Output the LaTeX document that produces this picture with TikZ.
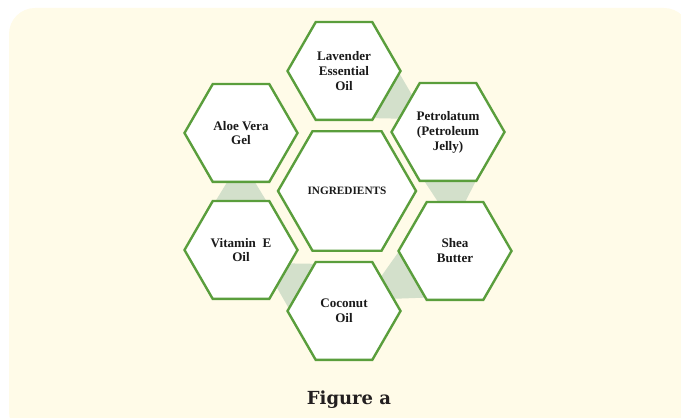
\documentclass[tikz,border=0pt]{standalone}
\usepackage{fontspec}
\setmainfont{Liberation Serif}
\newfontfamily\captionfont{DejaVu Serif}
\usetikzlibrary{shapes.geometric,calc}

\definecolor{cream}{HTML}{FFFBE8}
\definecolor{hexgreen}{HTML}{5A9E3C}
\definecolor{jointfill}{HTML}{D3E0CB}
\definecolor{inktext}{HTML}{1A1A1A}
\definecolor{captiongray}{HTML}{231F20}

\pgfdeclarelayer{back}
\pgfdeclarelayer{joints}
\pgfsetlayers{back,joints,main}

% tapered joint between two neighbouring hexagons
\newcommand{\joint}[2]{%
  \fill[jointfill] ($(#1.center)!0.97cm!(#2.center)!0.79cm!90:(#2.center)$)
    -- ($(#1.center)!0.97cm!(#2.center)!0.79cm!-90:(#2.center)$)
    -- ($(#2.center)!0.97cm!(#1.center)!0.19cm!90:(#1.center)$)
    -- ($(#2.center)!0.97cm!(#1.center)!0.19cm!-90:(#1.center)$) -- cycle;}

\tikzset{
  hexcell/.style={regular polygon, regular polygon sides=6, draw=hexgreen,
    fill=white, line width=1.7pt, minimum size=2.825cm, inner sep=0pt,
    align=center, text=inktext, font={\fontsize{9.3}{10.6}\selectfont\bfseries}},
  hexhub/.style={hexcell, minimum size=3.45cm,
    font={\fontsize{8}{9}\selectfont\bfseries}}
}

\begin{document}
\begin{tikzpicture}[x=0.025cm,y=0.025cm]
  \useasboundingbox (0,0) rectangle (681,418);
  \begin{pgfonlayer}{back}
    \clip (0,0) rectangle (681,418);
    \fill[cream, rounded corners=0.65cm] (9,410) rectangle (690,-20);
  \end{pgfonlayer}

  % hexagons
  \node[hexhub]  (hub)        at (347,227) {INGREDIENTS};
  \node[hexcell] (lavender)   at (344,347) {Lavender\\Essential\\Oil};
  \node[hexcell] (petrolatum) at (448,286) {Petrolatum\\(Petroleum\\Jelly)};
  \node[hexcell] (shea)       at (455,167) {Shea\\Butter};
  \node[hexcell] (coconut)    at (344,107) {Coconut\\Oil};
  \node[hexcell] (vitamin)    at (241,168) {Vitamin\ \ E\\Oil};
  \node[hexcell] (aloe)       at (241,285) {Aloe Vera\\Gel};

  % joints
  \begin{pgfonlayer}{joints}
    \joint{lavender}{petrolatum}
    \joint{petrolatum}{shea}
    \joint{shea}{coconut}
    \joint{coconut}{vitamin}
    \joint{vitamin}{aloe}
  \end{pgfonlayer}

  \node[anchor=base, text=captiongray,
    font={\captionfont\bfseries\fontsize{12.8}{14}\selectfont}] (caption) at (349,13) {Figure a};
\end{tikzpicture}
\end{document}
